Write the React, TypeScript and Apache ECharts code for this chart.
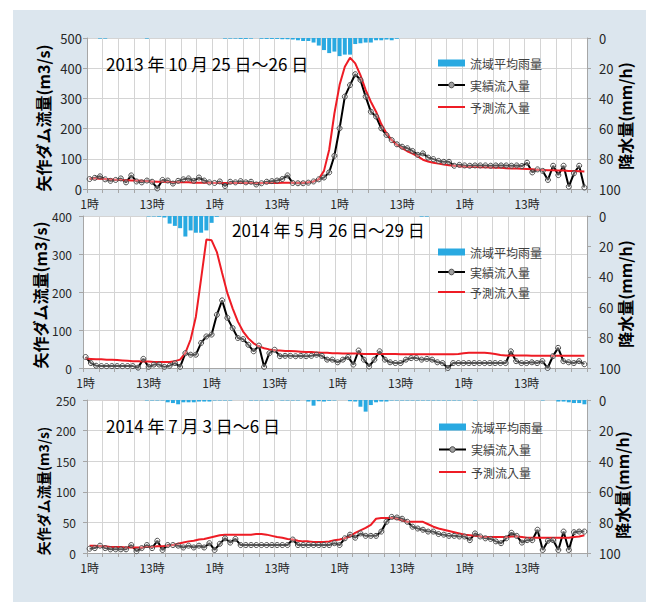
import React, { useEffect, useRef } from 'react';
import * as echarts from 'echarts';

// ---- category / tick labels ----
const hours: string[] = Array.from({ length: 96 }, (_, i) => `${(i % 24) + 1}時`);
const seriesNames = ['流域平均雨量', '実績流入量', '予測流入量'];
const titles = ['2013 年 10 月 25 日〜26 日', '2014 年 5 月 26 日〜29 日', '2014 年 7 月 3 日〜6 日'];
const leftAxisName = '矢作ダム流量(m3/s)';
const rightAxisName = '降水量(mm/h)';
const flowMax = [500, 400, 250];
const flowInterval = [100, 100, 50];

// ---- chart 1 : 2013/10/25-26 ----
const rain1: number[] = [
  0, 0, 0.4, 0.4, 0, 0, 0, 0, 0, 0,
  0, 0.4, 0, 0, 0, 0, 0, 0, 0, 0,
  0, 0, 0, 0, 0, 0, 0.4, 0.4, 0.4, 0.6,
  0.6, 0.4, 0, 0.5, 0.6, 0.6, 0.6, 0.8, 0.8, 1,
  1.5, 2, 2, 3, 5, 8, 10, 9, 12, 11,
  11, 4, 3.5, 3, 3, 1.5, 1.5, 1, 1.5, 0.5,
  0, 0, 0, 0, 0, 0, 0, 0, 0, 0,
  0, 0, 0, 0, 0, 0, 0, 0, 0, 0,
  0, 0, 0, 0, 0, 0, 0, 0, 0, 0,
  0, 0, 0, 0, 0, 0,
];
const actual1: number[] = [
  33, 37, 42, 32, 27, 30, 35, 22, 45, 25,
  22, 28, 24, 2, 30, 28, 18, 27, 32, 35,
  27, 38, 28, 22, 20, 25, 10, 24, 22, 26,
  22, 24, 15, 19, 24, 26, 28, 33, 45, 20,
  19, 19, 21, 25, 32, 38, 55, 110, 201, 306,
  344, 380, 361, 306, 256, 240, 201, 179, 162, 148,
  140, 135, 126, 113, 118, 104, 99, 93, 90, 90,
  77, 80, 78, 77, 78, 78, 78, 77, 78, 78,
  78, 77, 78, 76, 87, 55, 65, 60, 30, 77,
  46, 77, 8, 52, 77, 5,
];
const forecast1: number[] = [
  35, 35, 34, 33, 32, 31, 30, 29, 28, 28,
  27, 26, 25, 24, 24, 23, 23, 22, 22, 22,
  21, 21, 21, 21, 20, 20, 20, 20, 20, 20,
  20, 20, 20, 20, 20, 20, 20, 21, 21, 21,
  21, 21, 22, 25, 33, 60, 130, 250, 345, 405,
  435, 416, 377, 328, 289, 256, 215, 185, 162, 146,
  135, 125, 117, 108, 97, 91, 87, 84, 81, 79,
  77, 75, 74, 73, 73, 72, 72, 71, 70, 70,
  69, 68, 68, 67, 66, 65, 64, 63, 62, 62,
  61, 61, 60, 60, 59, 58,
];

// ---- chart 2 : 2014/5/26-29 ----
const rain2: number[] = [
  0, 0, 0, 0, 0, 0, 0, 0, 0, 0,
  0, 0, 0.3, 0.3, 0.5, 1, 5, 6.5, 8, 13.5,
  9.5, 11, 11, 9.5, 4.5, 0.5, 0, 0, 0, 0,
  0, 0, 0, 0, 0, 0, 0, 0, 0, 0,
  0, 0, 0, 0, 0, 0, 0, 0, 0, 0,
  0, 0, 0, 0, 0, 0, 0, 0, 0, 0,
  0, 0, 0, 0, 0.4, 0.4, 0, 0, 0, 0,
  0, 0, 0, 0, 0, 0, 0, 0, 0, 0,
  0, 0, 0, 0, 0, 0, 0, 0, 0, 0,
  0, 0, 0, 0, 0, 0,
];
const actual2: number[] = [
  29, 13, 6, 5, 5, 5, 5, 5, 5, 5,
  1, 24, 3, 9, 9, 3, 6, 13, 3, 39,
  35, 35, 66, 83, 88, 140, 178, 132, 105, 79,
  76, 61, 44, 59, 3, 39, 48, 31, 32, 32,
  31, 32, 31, 32, 35, 32, 22, 22, 15, 22,
  29, 9, 46, 22, 4, 22, 44, 22, 15, 13,
  13, 22, 26, 26, 22, 24, 22, 15, 13, 0,
  13, 13, 13, 13, 13, 13, 13, 13, 13, 13,
  13, 44, 18, 13, 13, 15, 13, 18, 0, 31,
  53, 18, 15, 13, 18, 10,
];
const forecast2: number[] = [
  25, 24, 23, 23, 22, 22, 21, 20, 19, 18,
  18, 17, 17, 16, 16, 16, 16, 18, 22, 40,
  75, 135, 235, 338, 336, 305, 250, 197, 157, 122,
  96, 78, 65, 57, 52, 49, 47, 46, 45, 45,
  44, 43, 42, 42, 41, 40, 40, 39, 39, 38,
  38, 38, 38, 37, 37, 37, 37, 37, 37, 37,
  36, 36, 36, 36, 36, 36, 36, 36, 36, 36,
  36, 37, 39, 40, 40, 40, 40, 39, 37, 34,
  33, 33, 33, 33, 33, 32, 32, 32, 32, 32,
  32, 32, 32, 32, 32, 32,
];

// ---- chart 3 : 2014/7/3-6 ----
const rain3: number[] = [
  0, 0, 0, 0, 0, 0, 0, 0, 0, 0,
  0, 0.3, 0.3, 0.3, 0.3, 1.5, 2, 2.8, 1.5, 1.5,
  1.5, 1, 1, 1, 0.3, 0.3, 0.3, 0.3, 0, 0,
  0, 0.3, 0.3, 0.3, 0.3, 0.3, 0, 0.3, 0.3, 0.3,
  0.3, 0, 1, 3.7, 0.8, 1, 0.5, 0.3, 0, 0,
  0.8, 1, 4.4, 7.6, 3.3, 1.5, 1, 1, 0.3, 0.3,
  0.3, 0.3, 0.3, 0.3, 0.3, 0.3, 0.3, 0.3, 0.3, 0.3,
  0.3, 0.3, 0, 0, 0.3, 0, 0, 0, 0, 0,
  0, 0, 0, 0, 0, 0, 0, 0.3, 0, 0,
  1, 1, 1.5, 2, 2, 2.8,
];
const actual3: number[] = [
  7, 8, 12, 8, 6, 6, 6, 6, 13, 3,
  8, 13, 8, 20, 5, 13, 13, 12, 9, 12,
  9, 12, 9, 16, 5, 15, 24, 17, 23, 13,
  13, 13, 13, 13, 13, 13, 13, 13, 13, 22,
  13, 13, 13, 13, 13, 13, 13, 16, 13, 24,
  30, 25, 32, 28, 28, 28, 35, 51, 59, 58,
  56, 51, 43, 40, 38, 35, 35, 31, 30, 28,
  28, 27, 27, 21, 32, 27, 24, 23, 19, 16,
  24, 33, 28, 17, 21, 21, 38, 5, 20, 21,
  5, 35, 5, 34, 35, 35,
];
const forecast3: number[] = [
  12, 12, 11, 11, 10, 10, 10, 9, 9, 9,
  9, 10, 10, 11, 11, 12, 13, 15, 17, 19,
  20, 22, 23, 25, 27, 29, 30, 30, 30, 30,
  30, 30, 31, 31, 30, 28, 26, 25, 23, 22,
  20, 19, 19, 18, 18, 18, 19, 21, 22, 24,
  27, 33, 37, 41, 46, 56, 57, 57, 57, 56,
  53, 51, 51, 51, 51, 47, 43, 40, 38, 36,
  34, 32, 30, 29, 28, 27, 26, 26, 26, 26,
  26, 27, 27, 26, 25, 25, 25, 25, 25, 25,
  25, 25, 25, 26, 27, 29,
];

const rainData = [rain1, rain2, rain3];
const actualData = [actual1, actual2, actual3];
const forecastData = [forecast1, forecast2, forecast3];

// ---- layout (positions / styles) ----
const FONT = '"Noto Sans CJK JP", "Noto Sans", sans-serif';
const layouts = [
  { grid: { left: 87, top: 38, width: 500, height: 151 }, yLabelSize: 13, yLabelMargin: 5,
    title: { x: 106, y: 63.5 }, leftName: { x: 43, y: 118, size: 16 }, rightName: { x: 625, y: 116 },
    legend: { left: 437, top: 56, gap: 8 } },
  { grid: { left: 83, top: 216, width: 504, height: 152 }, yLabelSize: 12, yLabelMargin: 11,
    title: { x: 232, y: 229 }, leftName: { x: 40, y: 295, size: 16 }, rightName: { x: 625, y: 294 },
    legend: { left: 437, top: 245, gap: 6 } },
  { grid: { left: 87, top: 400, width: 500, height: 153 }, yLabelSize: 12, yLabelMargin: 11,
    title: { x: 106, y: 425 }, leftName: { x: 43, y: 491, size: 14 }, rightName: { x: 622, y: 485 },
    legend: { left: 438, top: 420, gap: 8.5 } },
];

const AXIS = '#a6a6a6';
const GRID = '#d4d4d4';
const LABEL = '#262626';
const RAIN = '#29a9e1';
const RED = '#ee1c25';

function buildOption() {
  const grid: any[] = [];
  const xAxis: any[] = [];
  const yAxis: any[] = [];
  const series: any[] = [];
  const legend: any[] = [];
  const graphic: any[] = [];

  layouts.forEach((L, k) => {
    grid.push({ ...L.grid, show: true, backgroundColor: '#ffffff', borderWidth: 0, containLabel: false, outerBoundsMode: 'none' });
    xAxis.push({
      type: 'category', gridIndex: k, data: hours, boundaryGap: true,
      axisLine: { show: true, lineStyle: { color: AXIS, width: 1 } },
      axisTick: { show: true, interval: 2, length: 4, lineStyle: { color: AXIS } },
      axisLabel: { interval: 11, margin: 8, fontSize: 12, color: LABEL, fontFamily: FONT },
      splitLine: { show: true, interval: 2, lineStyle: { color: GRID, width: 1 } },
    });
    yAxis.push({
      type: 'value', gridIndex: k, position: 'left', min: 0, max: flowMax[k], interval: flowInterval[k],
      axisLine: { show: true, lineStyle: { color: AXIS } },
      axisTick: { show: true, length: 4, lineStyle: { color: AXIS } },
      axisLabel: { margin: L.yLabelMargin, fontSize: L.yLabelSize, color: LABEL, fontFamily: FONT },
      splitLine: { show: true, lineStyle: { color: GRID, width: 1 } },
    });
    yAxis.push({
      type: 'value', gridIndex: k, position: 'right', min: 0, max: 100, interval: 20, inverse: true,
      axisLine: { show: true, lineStyle: { color: AXIS } },
      axisTick: { show: true, length: 4, lineStyle: { color: AXIS } },
      axisLabel: { margin: 12, fontSize: 13, color: LABEL, fontFamily: FONT },
      splitLine: { show: false },
    });
    series.push({
      type: 'bar', name: seriesNames[0], xAxisIndex: k, yAxisIndex: 2 * k + 1,
      data: rainData[k], barWidth: '76%', itemStyle: { color: RAIN }, silent: true,
    });
    series.push({
      type: 'line', name: seriesNames[1], xAxisIndex: k, yAxisIndex: 2 * k,
      data: actualData[k], symbol: 'circle', symbolSize: 5, showAllSymbol: true,
      lineStyle: { color: '#000000', width: 2 },
      itemStyle: { color: 'rgba(255,255,255,0.35)', borderColor: '#4a4a4a', borderWidth: 1 },
      silent: true,
    });
    series.push({
      type: 'line', name: seriesNames[2], xAxisIndex: k, yAxisIndex: 2 * k,
      data: forecastData[k], symbol: 'none', showSymbol: false,
      lineStyle: { color: RED, width: 2 }, itemStyle: { color: RED }, silent: true,
    });
    legend.push({
      orient: 'vertical', left: L.legend.left, top: L.legend.top, padding: 0,
      itemGap: L.legend.gap, itemWidth: 27, itemHeight: 7, selectedMode: false,
      textStyle: { fontSize: 12, color: '#404040', fontFamily: FONT, lineHeight: 14 },
      data: [
        { name: seriesNames[0], icon: 'rect' },
        { name: seriesNames[1], itemStyle: { color: '#a0a0a0', borderColor: '#4a4a4a', borderWidth: 1 } },
        { name: seriesNames[2], itemStyle: { opacity: 0, color: 'transparent', borderWidth: 0 } },
      ],
    });
    graphic.push({
      type: 'text', x: L.title.x, y: L.title.y, z: 100,
      style: { text: titles[k], font: `17px ${FONT}`, fill: '#000000', textAlign: 'left', textVerticalAlign: 'middle', align: 'left', verticalAlign: 'middle' },
    });
    graphic.push({
      type: 'text', x: L.leftName.x, y: L.leftName.y, rotation: Math.PI / 2, z: 100,
      style: { text: leftAxisName, font: `bold ${L.leftName.size}px ${FONT}`, fill: '#000000', textAlign: 'center', textVerticalAlign: 'middle', align: 'center', verticalAlign: 'middle' },
    });
    graphic.push({
      type: 'text', x: L.rightName.x, y: L.rightName.y, rotation: Math.PI / 2, z: 100,
      style: { text: rightAxisName, font: `bold 16px ${FONT}`, fill: '#000000', textAlign: 'center', textVerticalAlign: 'middle', align: 'center', verticalAlign: 'middle' },
    });
  });

  return {
    animation: false,
    backgroundColor: 'transparent',
    textStyle: { fontFamily: FONT },
    grid, xAxis, yAxis, series, legend, graphic,
  };
}

export default function App() {
  const ref = useRef<HTMLDivElement>(null);
  useEffect(() => {
    if (!ref.current) return;
    const chart = echarts.init(ref.current, null, { renderer: 'svg' });
    chart.setOption(buildOption() as any);
    return () => chart.dispose();
  }, []);
  return (
    <div style={{ position: 'fixed', left: 0, top: 0, width: 656, height: 602, background: '#ffffff' }}>
      <div style={{ position: 'absolute', left: 13, top: 10, width: 633, height: 592, background: '#dce6ee' }} />
      <div ref={ref} style={{ position: 'absolute', left: 0, top: 0, width: 656, height: 602 }} />
    </div>
  );
}
